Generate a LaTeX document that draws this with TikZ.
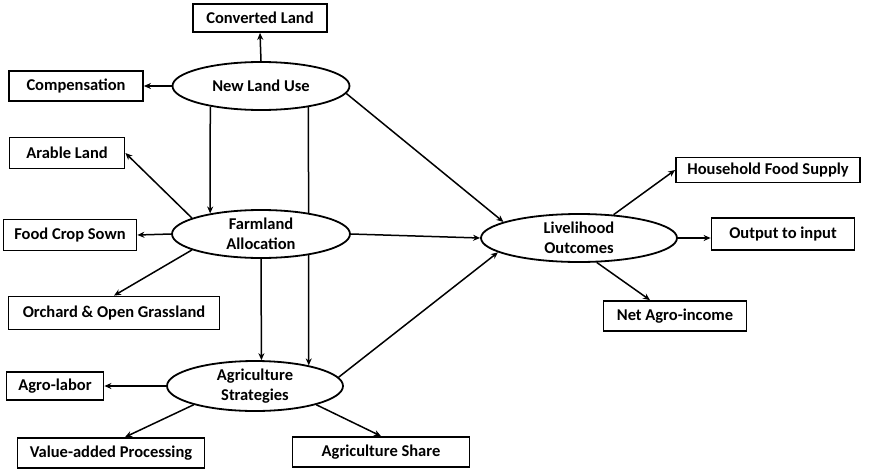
\documentclass[tikz,border=0pt]{standalone}
\usepackage{fontspec}
\setmainfont{Carlito}
\usetikzlibrary{shapes.geometric,arrows.meta,backgrounds}

\tikzset{
	box/.style={draw, line width=1.8pt, inner sep=0pt, minimum height=30pt, font=\bfseries\fontsize{16.5}{20}\selectfont},
	oval/.style={draw, ellipse, line width=1.8pt, inner sep=0pt, fill=white, align=center, minimum height=48pt, font=\bfseries\fontsize{16.5}{20.5}\selectfont},
	link/.style={line width=1.5pt, -{Stealth[length=7pt,width=6pt]}},
}

\begin{document}
\begin{tikzpicture}[x=1pt, y=-1pt]
		\useasboundingbox (0,0) rectangle (874,471);
		% central ovals
		\node [oval, minimum width=177pt] (landuse) at (261,86) {New Land Use};
		\node [oval, minimum width=178pt] (farmland) at (261,234) {Farmland\\Allocation};
		\node [oval, minimum width=176pt, minimum height=50pt] (strategy) at (255,386) {Agriculture\\Strategies};
		\node [oval, minimum width=196pt] (outcome) at (579,238) {Livelihood\\Outcomes};
		% indicator boxes
		\node [box, minimum width=134pt, minimum height=28pt] (converted) at (260,18) {Converted Land};
		\node [box, minimum width=134pt] (compensation) at (76,86) {Compensation};
		\node [box, minimum width=115pt, minimum height=31pt] (arable) at (67,153) {Arable Land};
		\node [box, minimum width=133pt, minimum height=31pt] (foodcrop) at (70,235) {Food Crop Sown};
		\node [box, minimum width=211pt, minimum height=33pt] (orchard) at (114,313) {Orchard \& Open Grassland};
		\node [box, minimum width=97pt, minimum height=28pt] (agrolabor) at (55,386) {Agro-labor};
		\node [box, minimum width=187pt] (valueadded) at (111,453) {Value-added Processing};
		\node [box, minimum width=177pt] (agrishare) at (381,452) {Agriculture Share};
		\node [box, minimum width=184pt, minimum height=25pt] (foodsupply) at (768,170) {Household Food Supply};
		\node [box, minimum width=143pt, minimum height=32pt] (outputinput) at (783,234) {Output to input};
		\node [box, minimum width=143pt] (agroincome) at (675,316) {Net Agro-income};
		% connectors
		\begin{pgfonlayer}{background}
			\draw [link] (landuse.336) -- (strategy.21);
		\end{pgfonlayer}
		\draw [link] (landuse.north) -- (converted.south);
		\draw [link] (landuse.west) -- (compensation.east);
		\draw [link] (landuse.202) -- (farmland.158);
		\draw [link] (landuse.-5) -- (outcome.168);
		\draw [link] (farmland.167) -- (arable.east);
		\draw [link] (farmland.west) -- (foodcrop.east);
		\draw [link] (farmland.193) -- (orchard.north);
		\draw [link] (farmland.east) -- (outcome.west);
		\draw [link] (farmland.south) -- (strategy.76);
		\draw [link] (strategy.6) -- (outcome.190);
		\draw [link] (strategy.west) -- (agrolabor.east);
		\draw [link] (strategy.197) -- ([xshift=14pt]valueadded.north);
		\draw [link] (strategy.343) -- (agrishare.north);
		\draw [link] (outcome.34) -- (foodsupply.west);
		\draw [link] (outcome.east) -- (outcome.east -| outputinput.west);
		\draw [link] (outcome.306) -- ([xshift=-25pt]agroincome.north);
	\end{tikzpicture}
\end{document}
